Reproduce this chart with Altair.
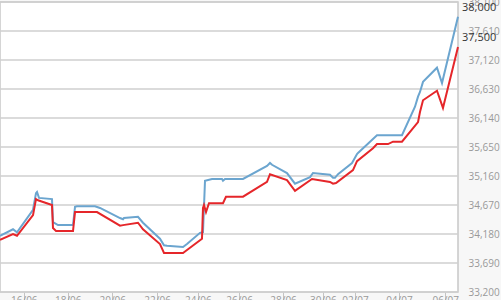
import altair as alt
import pandas as pd

# Blue series (higher price)
blue_x = [0, 2.84, 3.71, 7.21, 7.86, 8.08, 8.52, 11.35, 11.57, 12.66, 15.94, 16.38, 16.81, 20.74,
          21.83, 26.20, 26.86, 27.07, 30.13, 31.22, 34.93, 35.81, 36.46, 39.96, 40.83, 43.67, 44.32,
          44.76, 46.29, 48.47, 48.69, 49.13, 53.06, 58.30, 58.95, 59.39, 62.66, 64.41, 67.69, 68.34,
          72.05, 72.71, 73.14, 73.80, 76.86, 77.95, 78.17, 82.31, 87.77, 90.61, 91.27, 91.70, 92.36,
          95.41, 96.51, 100]
blue_v = [34150, 34260, 34210, 34590, 34870, 34890, 34790, 34770, 34380, 34330, 34330, 34640, 34650,
          34650, 34620, 34450, 34430, 34450, 34470, 34370, 34100, 33990, 33980, 33960, 34010, 34200,
          34210, 35080, 35110, 35110, 35080, 35110, 35110, 35330, 35380, 35350, 35210, 35030, 35140,
          35210, 35180, 35130, 35130, 35190, 35380, 35530, 35550, 35850, 35850, 36330, 36500, 36580,
          36750, 36990, 36730, 37850]

# Red series (lower price)
red_x = [0, 2.84, 3.71, 7.21, 7.86, 8.30, 11.35, 11.57, 12.23, 15.94, 16.38, 21.18, 26.20, 26.86,
         30.13, 31.22, 34.93, 35.81, 39.96, 40.83, 44.10, 44.32, 44.54, 44.98, 45.63, 48.69, 49.34,
         53.06, 58.30, 58.95, 62.66, 64.41, 68.12, 72.05, 72.71, 73.36, 77.07, 77.95, 81.44, 82.31,
         84.72, 85.81, 87.77, 91.27, 91.70, 92.36, 95.41, 96.72, 100]
red_v = [34080, 34180, 34150, 34500, 34770, 34750, 34670, 34280, 34230, 34230, 34550, 34550, 34320,
         34330, 34370, 34260, 34010, 33860, 33860, 33910, 34100, 34620, 34670, 34550, 34700, 34700,
         34810, 34810, 35060, 35190, 35090, 34910, 35110, 35060, 35030, 35040, 35260, 35410, 35630,
         35700, 35700, 35740, 35740, 36070, 36240, 36440, 36600, 36310, 37340]

tick_pos = [5.2, 14.8, 24.5, 34.3, 43.2, 52.2, 61.8, 70.5, 77.5, 87.1, 97.2]
tick_lab = ["16/06", "18/06", "20/06", "22/06", "24/06", "26/06", "28/06", "30/06",
            "02/07", "04/07", "06/07"]
y_ticks = [33200, 33690, 34180, 34670, 35160, 35650, 36140, 36630, 37120, 37610, 38100]
mark_vals = [38000, 37500]
mark_text = ["38,000", "37,500"]

df = pd.concat([
    pd.DataFrame({"x": blue_x, "v": blue_v, "s": "blue"}),
    pd.DataFrame({"x": red_x, "v": red_v, "s": "red"}),
])

label_expr = "{" + ",".join(f"'{p}':'{l}'" for p, l in zip(tick_pos, tick_lab)) + "}[datum.value]"

Y_DOMAIN = [33200, 38100]
xs = alt.Scale(domain=[0, 100], nice=False, zero=False)

def ys():
    return alt.Scale(domain=Y_DOMAIN, nice=False, zero=False)

y_axis = alt.Axis(
    orient="right", values=y_ticks, format=",d", title=None, grid=False,
    domain=False, ticks=False, labelPadding=10,
    labelColor="#999999", labelFontSize=10, labelFont="Open Sans",
    labelOverlap=False, labelFlush=False, labelBound=False)

grid = alt.Chart(pd.DataFrame({"g": y_ticks})).mark_rule(
    color="#cfcfcf", strokeWidth=1.5
).encode(
    y=alt.Y("g:Q", scale=ys(), axis=None),
    x=alt.value(0),
    x2=alt.value(458),
)

lines = alt.Chart(df).mark_line(strokeWidth=2).encode(
    x=alt.X("x:Q", scale=xs, axis=alt.Axis(
        values=tick_pos, labelExpr=label_expr, title=None, grid=False, domain=False,
        ticks=True, tickSize=8, tickColor="#c4c4c4", labelPadding=-5, labelColor="#999999",
        labelFontSize=10, labelFont="Open Sans", labelOverlap=False, labelFlush=False)),
    y=alt.Y("v:Q", scale=ys(), axis=y_axis),
    color=alt.Color("s:N", scale=alt.Scale(domain=["blue", "red"], range=["#6ba5cf", "#e5262a"]),
                    legend=None),
    detail="s:N",
)

marks = alt.Chart(pd.DataFrame({"mv": mark_vals, "t": mark_text})).mark_text(
    align="left", baseline="middle", fontSize=11, font="Open Sans", color="#333333"
).encode(
    x=alt.value(462),
    y=alt.Y("mv:Q", scale=ys(), axis=None),
    text="t:N",
)

chart = alt.layer(grid, lines, marks).resolve_scale(y="independent").resolve_axis(y="independent").properties(
    width=458, height=290,
    autosize=alt.AutoSizeParams(type="none"),
    padding={"left": 0, "top": 2, "right": 43, "bottom": 8},
    background="#f7f7f7",
).configure_view(fill="white", stroke="#c8c8c8", strokeWidth=1.5)

chart.save("out.html", embed_options={"renderer": "svg", "actions": False})
